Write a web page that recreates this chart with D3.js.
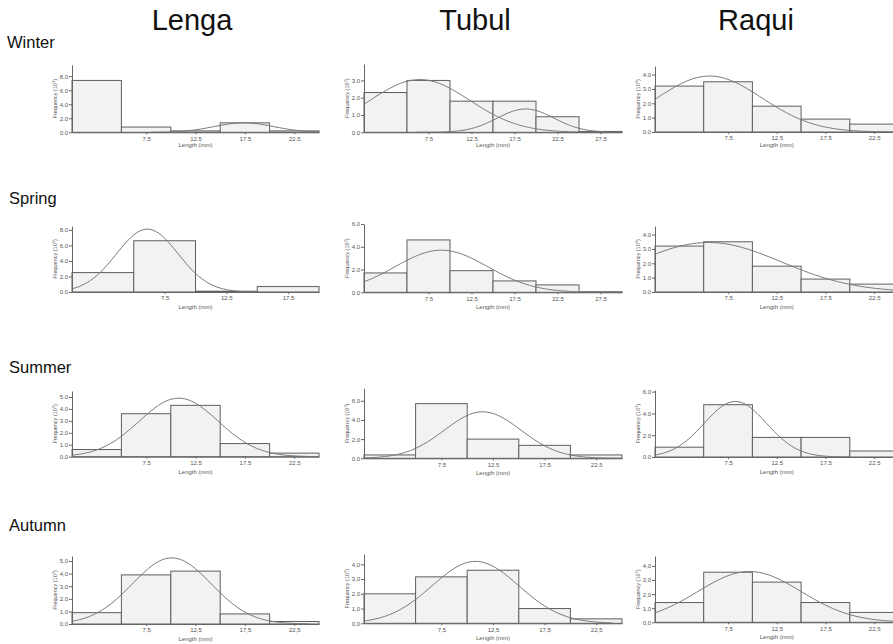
<!DOCTYPE html>
<html>
<head>
<meta charset="utf-8">
<script src="https://cdn.jsdelivr.net/npm/d3@7"></script>
<style>
  body { margin: 0; background: #fff; }
  svg { display: block; font-family: "Liberation Sans", Arial, sans-serif; }
</style>
</head>
<body>
<svg id="chart" width="893" height="644"></svg>
<script>
// Seasons (rows) and sampling sites (columns)
const seasons = ["Winter", "Spring", "Summer", "Autumn"];
const sites = ["Lenga", "Tubul", "Raqui"];

// Length classes are 5 mm wide, starting at 0 mm
const binWidth = 5;

// Frequencies per length class (x10^n individuals)
const winterLenga = [7.4, 0.75, 0.2, 1.35, 0.2];
const winterTubul = [2.3, 3.0, 1.8, 1.8, 0.9, 0.05];
const winterRaqui = [3.2, 3.5, 1.8, 0.9, 0.55];
const springLenga = [2.5, 6.6, 0.1, 0.7];
const springTubul = [1.7, 4.6, 1.9, 1.0, 0.65, 0.05];
const springRaqui = [3.2, 3.5, 1.8, 0.9, 0.55];
const summerLenga = [0.6, 3.6, 4.3, 1.1, 0.3];
const summerTubul = [0.35, 5.7, 2.0, 1.35, 0.35];
const summerRaqui = [0.9, 4.8, 1.8, 1.8, 0.55];
const autumnLenga = [0.9, 3.9, 4.2, 0.8, 0.2];
const autumnTubul = [2.0, 3.15, 3.6, 1.0, 0.3];
const autumnRaqui = [1.4, 3.55, 2.85, 1.4, 0.7];

// Fitted normal components: [mean, sd, peak height, from mm, to mm]
const winterLengaFit = [[17.4, 3.0, 1.35, 8, 25]];
const winterTubulFit = [[6.5, 5.8, 3.05, 0, 30], [18.8, 3.3, 1.35, 6, 30]];
const winterRaquiFit = [[5.6, 5.4, 3.9, 0, 25]];
const springLengaFit = [[6.1, 2.5, 8.1, 0, 15]];
const springTubulFit = [[9.0, 5.4, 3.7, 0, 30]];
const springRaquiFit = [[5.5, 7.5, 3.45, 0, 25]];
const summerLengaFit = [[10.8, 4.0, 4.9, 0, 25]];
const summerTubulFit = [[11.5, 3.7, 4.85, 0, 25]];
const summerRaquiFit = [[8.25, 3.2, 5.1, 0, 20]];
const autumnLengaFit = [[10.1, 4.0, 5.25, 0, 24]];
const autumnTubulFit = [[10.8, 4.2, 4.2, 0, 24]];
const autumnRaquiFit = [[9.7, 5.3, 3.6, 0, 25]];

// Axis extents and tick labels
const yMaxes = [[9.6, 3.95, 4.6], [8.5, 6.0, 4.6], [5.5, 7.3, 6.15], [5.4, 4.7, 4.7]];
const yTickSteps = [[2, 1, 1], [2, 2, 1], [1, 2, 2], [1, 1, 1]];
const xTicks25 = [7.5, 12.5, 17.5, 22.5];
const xTicks20 = [7.5, 12.5, 17.5];
const xTicks30 = [7.5, 12.5, 17.5, 22.5, 27.5];
const xTitle = "Length (mm)";
const yTitle = "Frequency (10";
const yTitleExp = "3";

const values = [
  [winterLenga, winterTubul, winterRaqui],
  [springLenga, springTubul, springRaqui],
  [summerLenga, summerTubul, summerRaqui],
  [autumnLenga, autumnTubul, autumnRaqui]
];
const fits = [
  [winterLengaFit, winterTubulFit, winterRaquiFit],
  [springLengaFit, springTubulFit, springRaquiFit],
  [summerLengaFit, summerTubulFit, summerRaquiFit],
  [autumnLengaFit, autumnTubulFit, autumnRaquiFit]
];

// Layout
const colAxisX = [72, 364, 655];
const colWidth = [247, 258, 243.5];
const panelTop = [[65, 64, 66], [226, 224, 226], [391, 388.3, 390], [556, 554, 556]];
const panelBase = [[132.3, 132.3, 132], [292, 292.3, 292], [456.7, 458.3, 457], [624, 623.3, 622.3]];
const rowLabelY = [48, 204, 373, 531];
const colTitleX = [192, 475, 756];

const svg = d3.select("#chart");

const dotFmt = d3.format(".1f");
const commaFmt = d3.formatLocale({ decimal: ",", thousands: ".", grouping: [3], currency: ["", ""] }).format(".1f");

// Column titles
svg.selectAll("text.col-title")
  .data(sites)
  .join("text")
  .attr("class", "col-title")
  .attr("x", (d, i) => colTitleX[i])
  .attr("y", 30)
  .attr("text-anchor", "middle")
  .attr("font-size", 29)
  .attr("fill", "#111")
  .text(d => d);

// Row labels
svg.selectAll("text.row-label")
  .data(seasons)
  .join("text")
  .attr("class", "row-label")
  .attr("x", (d, i) => i === 0 ? 7 : 9)
  .attr("y", (d, i) => rowLabelY[i])
  .attr("font-size", 16.5)
  .attr("fill", "#111")
  .text(d => d);

function drawPanel(r, c) {
  const vals = values[r][c];
  const xMaxMm = vals.length * binWidth;
  const x0 = colAxisX[c];
  const top = panelTop[r][c];
  const base = panelBase[r][c];
  const yMax = yMaxes[r][c];
  const step = yTickSteps[r][c];
  const fmt = r === 3 ? commaFmt : dotFmt;
  const xTicks = xMaxMm === 20 ? xTicks20 : (xMaxMm === 30 ? xTicks30 : xTicks25);

  const x = d3.scaleLinear().domain([0, xMaxMm]).range([x0, x0 + colWidth[c]]);
  const y = d3.scaleLinear().domain([0, yMax]).range([base, top]);

  const g = svg.append("g");

  // histogram bars
  g.selectAll("rect")
    .data(vals)
    .join("rect")
    .attr("x", (d, i) => x(i * binWidth))
    .attr("width", (d, i) => x((i + 1) * binWidth) - x(i * binWidth))
    .attr("y", d => y(d))
    .attr("height", d => base - y(d))
    .attr("fill", "#f1f2f2")
    .attr("stroke", "#5e5e5e")
    .attr("stroke-width", 1);

  // fitted normal curves
  const line = d3.line().x(d => x(d[0])).y(d => y(d[1]));
  fits[r][c].forEach(([m, s, peak, from, to]) => {
    const pts = d3.range(from, to + 0.001, 0.25)
      .map(t => [t, peak * Math.exp(-((t - m) ** 2) / (2 * s * s))]);
    g.append("path")
      .attr("d", line(pts))
      .attr("fill", "none")
      .attr("stroke", "#7a7a7a")
      .attr("stroke-width", 1);
  });

  // y axis
  const yAxis = g.append("g")
    .attr("transform", `translate(${x0},0)`)
    .call(d3.axisLeft(y)
      .tickValues(d3.range(0, yMax + 1e-9, step))
      .tickSize(3)
      .tickSizeOuter(0)
      .tickPadding(1)
      .tickFormat(fmt));
  yAxis.select(".domain").attr("stroke", "#666");
  yAxis.selectAll(".tick line").attr("stroke", "#666");
  yAxis.selectAll("text").attr("font-size", 6).attr("fill", "#555").attr("font-family", "Liberation Sans, Arial, sans-serif");

  // x axis
  const xAxis = g.append("g")
    .attr("transform", `translate(0,${base})`)
    .call(d3.axisBottom(x)
      .tickValues(xTicks)
      .tickSize(2)
      .tickSizeOuter(0)
      .tickPadding(2)
      .tickFormat(fmt));
  xAxis.select(".domain").attr("stroke", "#666");
  xAxis.selectAll(".tick line").attr("stroke", "#666");
  xAxis.selectAll("text").attr("font-size", 6).attr("fill", "#555").attr("font-family", "Liberation Sans, Arial, sans-serif");

  // axis titles
  g.append("text")
    .attr("x", (x(0) + x(xMaxMm)) / 2)
    .attr("y", base + (r === 0 ? 15 : 17))
    .attr("text-anchor", "middle")
    .attr("font-size", 6)
    .attr("fill", "#555")
    .text(xTitle);

  const yt = g.append("text")
    .attr("transform", `translate(${x0 - 15},${(top + base) / 2}) rotate(-90)`)
    .attr("text-anchor", "middle")
    .attr("font-size", 5.5)
    .attr("fill", "#555");
  yt.append("tspan").text(yTitle);
  yt.append("tspan").attr("font-size", 4).attr("dy", -2).text(yTitleExp);
  yt.append("tspan").attr("dy", 2).text(")");
}

for (let r = 0; r < seasons.length; r++) {
  for (let c = 0; c < sites.length; c++) drawPanel(r, c);
}
</script>
</body>
</html>
